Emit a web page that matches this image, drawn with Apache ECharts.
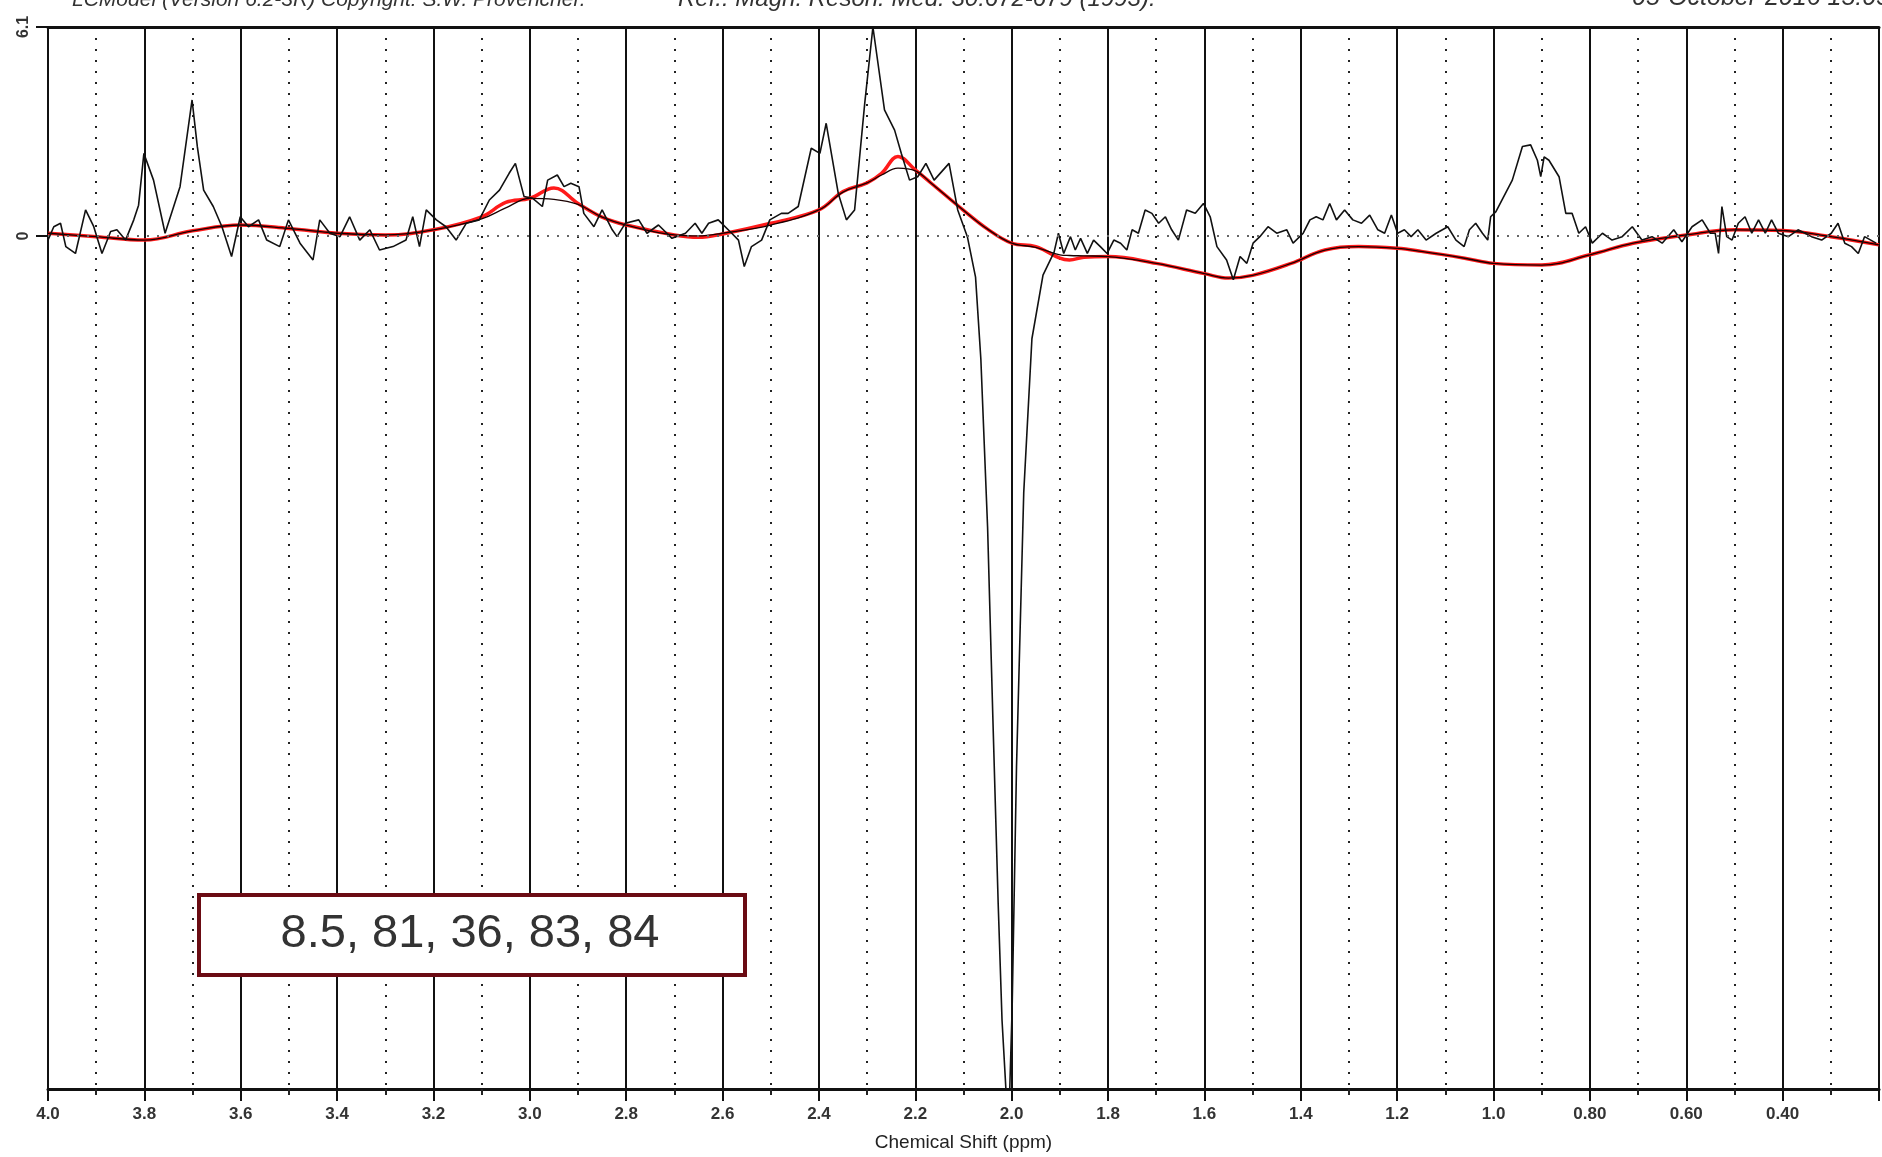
<!DOCTYPE html>
<html>
<head>
<meta charset="utf-8">
<title>LCModel spectrum</title>
<script src="https://cdn.jsdelivr.net/npm/echarts/dist/echarts.min.js"></script>
<style>
  * { margin: 0; padding: 0; }
  html, body { width: 1882px; height: 1157px; background: #fff; overflow: hidden; }
  #chart { width: 1882px; height: 1157px; }
</style>
</head>
<body>
<div id="chart"></div>
<script>
var dataPpm = [
  4.000, 3.988, 3.974, 3.963, 3.943, 3.922, 3.905, 3.888, 3.870, 3.857, 3.839, 3.822, 3.812, 3.801, 3.781, 3.757,
  3.726, 3.701, 3.690, 3.677, 3.657, 3.639, 3.619, 3.601, 3.584, 3.563, 3.546, 3.519, 3.501, 3.477, 3.450, 3.436,
  3.415, 3.394, 3.374, 3.353, 3.332, 3.312, 3.284, 3.257, 3.243, 3.229, 3.215, 3.194, 3.174, 3.153, 3.132, 3.105,
  3.084, 3.063, 3.043, 3.030, 3.012, 2.994, 2.974, 2.963, 2.943, 2.929, 2.915, 2.898, 2.888, 2.867, 2.850, 2.829,
  2.819, 2.802, 2.774, 2.757, 2.733, 2.705, 2.677, 2.657, 2.643, 2.629, 2.609, 2.581, 2.567, 2.555, 2.540, 2.519,
  2.502, 2.478, 2.464, 2.443, 2.416, 2.398, 2.385, 2.360, 2.343, 2.326, 2.305, 2.288, 2.264, 2.243, 2.229, 2.212,
  2.195, 2.178, 2.161, 2.130, 2.112, 2.092, 2.075, 2.064, 2.050, 2.039, 2.028, 2.020, 2.012, 2.004, 1.999, 1.990,
  1.975, 1.958, 1.935, 1.912, 1.903, 1.892, 1.878, 1.868, 1.857, 1.843, 1.830, 1.816, 1.802, 1.788, 1.774, 1.761,
  1.750, 1.737, 1.723, 1.709, 1.695, 1.681, 1.668, 1.654, 1.637, 1.619, 1.602, 1.588, 1.574, 1.554, 1.540, 1.526,
  1.512, 1.499, 1.485, 1.468, 1.450, 1.429, 1.416, 1.395, 1.381, 1.368, 1.354, 1.340, 1.326, 1.309, 1.292, 1.274,
  1.257, 1.240, 1.226, 1.212, 1.199, 1.185, 1.171, 1.157, 1.140, 1.119, 1.095, 1.078, 1.061, 1.050, 1.037, 1.023,
  1.012, 1.006, 0.995, 0.961, 0.940, 0.923, 0.909, 0.902, 0.895, 0.885, 0.864, 0.850, 0.837, 0.823, 0.809, 0.795,
  0.774, 0.754, 0.733, 0.712, 0.692, 0.671, 0.650, 0.626, 0.609, 0.588, 0.567, 0.550, 0.540, 0.533, 0.526, 0.516,
  0.505, 0.492, 0.478, 0.464, 0.450, 0.436, 0.423, 0.409, 0.388, 0.368, 0.340, 0.319, 0.299, 0.285, 0.271, 0.257,
  0.243, 0.230, 0.206
]
var dataSignal = [
  -0.12, 0.27, 0.37, -0.31, -0.51, 0.76, 0.27, -0.51, 0.13, 0.18, -0.12, 0.47, 0.9, 2.41, 1.63, 0.08,
  1.44, 3.97, 2.6, 1.34, 0.86, 0.27, -0.60, 0.56, 0.27, 0.47, -0.12, -0.31, 0.47, -0.21, -0.70, 0.47,
  0.08, -0.02, 0.56, -0.12, 0.18, -0.41, -0.31, -0.12, 0.56, -0.31, 0.76, 0.47, 0.27, -0.12, 0.37, 0.47,
  1.05, 1.34, 1.83, 2.12, 1.15, 1.10, 0.86, 1.63, 1.78, 1.44, 1.54, 1.44, 0.66, 0.27, 0.76, 0.18,
  -0.02, 0.37, 0.47, 0.08, 0.32, -0.07, 0.08, 0.37, 0.08, 0.37, 0.47, 0.08, -0.12, -0.89, -0.31, -0.12,
  0.47, 0.66, 0.66, 0.86, 2.56, 2.41, 3.29, 1.25, 0.47, 0.76, 3.87, 6.1, 3.68, 3.09, 2.41, 1.63,
  1.73, 2.12, 1.63, 2.12, 0.76, -0.02, -1.2, -3.59, -8.5, -14.1, -19.5, -22.9, -24.9, -24.9, -22.5, -15.5,
  -7.5, -3.0, -1.14, -0.47, 0.08, -0.51, -0.02, -0.41, -0.07, -0.51, -0.12, -0.31, -0.51, -0.12, -0.21, -0.41,
  0.18, 0.08, 0.76, 0.66, 0.37, 0.56, 0.18, -0.12, 0.76, 0.66, 0.95, 0.56, -0.31, -0.70, -1.28, -0.60,
  -0.80, -0.21, -0.02, 0.27, 0.08, 0.18, -0.21, 0.08, 0.47, 0.56, 0.47, 0.95, 0.47, 0.76, 0.47, 0.37,
  0.61, 0.18, 0.08, 0.61, 0.08, 0.18, -0.02, 0.18, -0.12, 0.08, 0.27, -0.12, -0.31, 0.18, 0.37, 0.08,
  -0.12, 0.56, 0.71, 1.63, 2.61, 2.66, 2.21, 1.73, 2.31, 2.21, 1.73, 0.66, 0.66, 0.08, 0.27, -0.21,
  0.08, -0.12, -0.02, 0.27, -0.12, -0.02, -0.21, 0.18, -0.17, 0.27, 0.47, 0.08, 0.08, -0.51, 0.86, -0.02,
  -0.12, 0.37, 0.56, 0.08, 0.47, 0.08, 0.47, 0.08, -0.02, 0.18, -0.02, -0.12, 0.08, 0.37, -0.21, -0.31,
  -0.51, -0.02, -0.21
]

// fit (red) and baseline (thin black), sampled at the same shifts
var fitPpm = [4.0, 3.9, 3.8, 3.7, 3.6, 3.5, 3.4, 3.3, 3.2, 3.1, 3.05, 3.0, 2.95, 2.9, 2.85, 2.8, 2.7, 2.65, 2.6, 2.5,
  2.4, 2.35, 2.3, 2.27, 2.236, 2.2, 2.167, 2.1, 2.05, 2.0, 1.95, 1.9, 1.88, 1.85, 1.8, 1.7, 1.6, 1.55, 1.5, 1.42,
  1.35, 1.28, 1.2, 1.15, 1.06, 1.0, 0.9, 0.8, 0.71, 0.6, 0.5, 0.4, 0.3, 0.2]
var fitCurve = [0.08, -0.02, -0.12, 0.15, 0.32, 0.22, 0.08, 0.03, 0.18, 0.56, 0.98, 1.10, 1.40, 0.95, 0.55, 0.32, 0.03, -0.04, 0.06, 0.37,
  0.76, 1.30, 1.55, 1.83, 2.32, 1.93, 1.54, 0.75, 0.20, -0.21, -0.31, -0.65, -0.70, -0.62, -0.60, -0.80, -1.10, -1.23, -1.15, -0.80,
  -0.41, -0.31, -0.36, -0.45, -0.65, -0.80, -0.85, -0.55, -0.21, 0.03, 0.18, 0.16, -0.02, -0.26]
var baselineCurve = [0.08, -0.02, -0.12, 0.15, 0.32, 0.22, 0.08, 0.03, 0.18, 0.50, 0.82, 1.10, 1.07, 0.92, 0.55, 0.32, 0.03, 0.0, 0.08, 0.32,
  0.76, 1.28, 1.55, 1.78, 1.98, 1.90, 1.54, 0.75, 0.20, -0.21, -0.33, -0.55, -0.57, -0.58, -0.60, -0.80, -1.10, -1.23, -1.15, -0.80,
  -0.41, -0.31, -0.36, -0.45, -0.65, -0.80, -0.85, -0.55, -0.21, 0.03, 0.18, 0.16, -0.02, -0.26]

var yLabels = [0, 6.1]
var yMin = -24.9
var yMax = 6.1
var xMin = 0.2
var xMax = 4.0
var boxText = '8.5, 81, 36, 83, 84'

function pairs (xs, ys) {
  var out = []
  for (var i = 0; i < xs.length; i++) out.push([xs[i], ys[i]])
  return out
}

var chart = echarts.init(document.getElementById('chart'))

var option = {
  animation: false,
  grid: { left: 48, right: 0, top: 27, bottom: 67 },
  xAxis: [
    {
      type: 'value',
      inverse: true,
      min: xMin,
      max: xMax,
      interval: 0.2,
      name: 'Chemical Shift (ppm)',
      nameLocation: 'middle',
      nameGap: 44,
      nameTextStyle: { fontFamily: 'Liberation Sans', fontSize: 19, color: '#222' },
      axisLine: { onZero: false, lineStyle: { color: '#111', width: 3 } },
      axisTick: { length: 12, lineStyle: { color: '#111', width: 2 } },
      minorTick: { show: true, splitNumber: 2, length: 6, lineStyle: { color: '#222', width: 2 } },
      axisLabel: {
        margin: 17,
        fontFamily: 'Liberation Sans',
        fontSize: 17,
        fontWeight: 'bold',
        color: '#333',
        formatter: function (v) {
          if (v < 0.3) return ''
          return v >= 1 ? v.toFixed(1) : v.toFixed(2)
        }
      },
      splitLine: { show: true, lineStyle: { color: '#111', width: 2 } },
      minorSplitLine: { show: true, lineStyle: { color: '#222', width: 2, type: [2, 9] } }
    },
    {
      // top frame
      type: 'value',
      position: 'top',
      inverse: true,
      min: xMin,
      max: xMax,
      axisLine: { show: true, onZero: false, lineStyle: { color: '#111', width: 3 } },
      axisTick: { show: false },
      axisLabel: { show: false },
      splitLine: { show: false }
    }
  ],
  yAxis: {
    type: 'value',
    min: yMin,
    max: yMax,
    axisLine: { show: true, onZero: false, lineStyle: { color: '#111', width: 2 } },
    axisTick: { show: true, length: 12, customValues: yLabels, lineStyle: { color: '#111', width: 2 } },
    axisLabel: {
      customValues: yLabels,
      rotate: 90,
      margin: 16,
      fontFamily: 'Liberation Sans',
      fontSize: 16,
      fontWeight: 'bold',
      color: '#333'
    },
    splitLine: { show: false }
  },
  series: [
    {
      name: 'fit',
      type: 'line',
      data: pairs(fitPpm, fitCurve),
      smooth: 0.4,
      showSymbol: false,
      z: 2,
      lineStyle: { color: '#ff1a1a', width: 3.5 }
    },
    {
      name: 'baseline',
      type: 'line',
      data: pairs(fitPpm, baselineCurve),
      smooth: 0.4,
      showSymbol: false,
      z: 3,
      lineStyle: { color: '#1a0000', width: 1.3 }
    },
    {
      name: 'data',
      type: 'line',
      data: pairs(dataPpm, dataSignal),
      showSymbol: false,
      z: 4,
      lineStyle: { color: '#111', width: 1.6 },
      markLine: {
        silent: true,
        symbol: 'none',
        label: { show: false },
        lineStyle: { color: '#666', width: 2, type: [2, 8] },
        data: [{ yAxis: 0 }]
      }
    }
  ],
  graphic: [
    {
      type: 'text', left: 72, top: -10, z: 10,
      style: { text: 'LCModel (Version 6.2-3R) Copyright: S.W. Provencher.', font: 'italic 21px "Liberation Sans"', fill: '#333' }
    },
    {
      type: 'text', left: 678, top: -13, z: 10,
      style: { text: 'Ref.: Magn. Reson. Med. 30:672-679 (1993).', font: 'italic 24px "Liberation Sans"', fill: '#333' }
    },
    {
      type: 'text', left: 1632, top: -14, z: 10,
      style: { text: '05-October-2016 15:05', font: 'italic 25px "Liberation Sans"', fill: '#333' }
    },
    {
      type: 'rect', left: 197, top: 893, z: 20,
      shape: { width: 546, height: 80 },
      style: { fill: '#fff', stroke: '#6b0b13', lineWidth: 4 }
    },
    {
      type: 'text', x: 470, y: 934, z: 21,
      style: { text: boxText, font: '47px "Liberation Sans"', fill: '#333', align: 'center', verticalAlign: 'middle' }
    }
  ]
}

chart.setOption(option)
</script>
</body>
</html>
